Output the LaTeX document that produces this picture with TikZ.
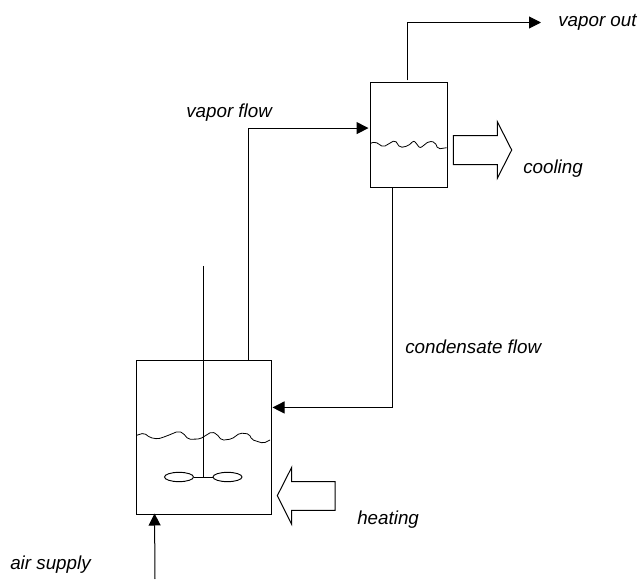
\documentclass[tikz,border=0pt]{standalone}
\usepackage{fontspec}
\setmainfont{Liberation Sans}
\usetikzlibrary{arrows.meta,calc,shapes.geometric}
\tikzset{
  vessel/.style={draw=black,line width=0.75pt,rectangle,inner sep=0pt},
  pipe/.style={draw=black,line width=0.75pt},
  flow/.style={pipe,-{Triangle[length=9pt,width=9pt]}},
  level/.style={draw=black,line width=0.6pt},
  blockarrow/.style={draw=black,line width=0.75pt,line join=miter},
  blade/.style={draw=black,line width=0.7pt,ellipse,inner sep=0pt,minimum width=21.75pt,minimum height=7pt},
  lbl/.style={font=\itshape\fontsize{14.1pt}{16pt}\selectfont,inner sep=0pt,anchor=west,text=black}
}
\begin{document}
\begin{tikzpicture}[x=0.75pt,y=-0.75pt]
\useasboundingbox (0,0) rectangle (640,581);
\node[vessel,minimum width=57.75pt,minimum height=78.75pt] (cond) at (408.5,135.5) {};
\node[vessel,minimum width=101.25pt,minimum height=114.75pt] (tank) at (203.5,437.5) {};
\coordinate (outend) at (541,22.5);
\coordinate (airstart) at (155,579);
\coordinate (shafttop) at (203.5,266);
\coordinate (hub) at (203.5,477);
\node[blade] (bladeL) at (179,477) {};
\node[blade] (bladeR) at (227.5,477) {};
% connectors
\draw[flow] ($(cond.north)+(-1,-2)$) |- (outend);
\draw[flow] ($(tank.north west)!0.83!(tank.north east)$) |- ($(cond.north west)!0.43!(cond.south west)+(-1,0)$);
\draw[flow] ($(cond.south west)!0.285!(cond.south east)+(0.5,0)$) |- ($(tank.north east)!0.305!(tank.south east)+(1,0)$);
\draw[flow] (airstart) -- ($(tank.south west)!0.14!(tank.south east)+(0,-1)$);
% agitator
\draw[pipe] (shafttop) -- (hub);
\draw[pipe] (bladeL) -- (bladeR);
% liquid levels
\draw[level,rounded corners=1.5pt] (370.7,143.3) -- (375,141.7) -- (383.3,147) -- (395,140.2) -- (400,147.6) -- (408,146) -- (414,140.5) -- (420,148.3) -- (429,141.2) -- (435,142.2) -- (438,149) -- (446.7,147.7);
\draw[level,rounded corners=1.5pt] (136.7,435.3) -- (144,433) -- (150,437.6) -- (158,439) -- (166.7,436) -- (178.3,431.2) -- (183,433) -- (188.3,439.3) -- (200,439) -- (211.7,431.8) -- (216.7,434) -- (221.7,440.3) -- (231.7,439) -- (240,433) -- (249.3,434) -- (251.7,439.6) -- (263.3,443.3) -- (270,440);
% block arrows
\draw[blockarrow] (453.3,135.7) -- (497.3,135.7) -- (497.3,121.7) -- (511.7,150) -- (497.3,178.3) -- (497.3,164.7) -- (453.3,164.7) -- cycle;
\draw[blockarrow] (335,481.7) -- (291.7,481.7) -- (291.7,467.3) -- (277.3,495.7) -- (291.7,524.3) -- (291.7,510.3) -- (335,510.3) -- cycle;
% labels
\node[lbl] (tvout) at (558,22) {vapor out};
\node[lbl] (tvflow) at (186,113) {vapor flow};
\node[lbl] (tcool) at (523,169) {cooling};
\node[lbl] (tcond) at (405,347) {condensate flow};
\node[lbl] (theat) at (357,520) {heating};
\node[lbl] (tair) at (10,565) {air supply};
\end{tikzpicture}
\end{document}
